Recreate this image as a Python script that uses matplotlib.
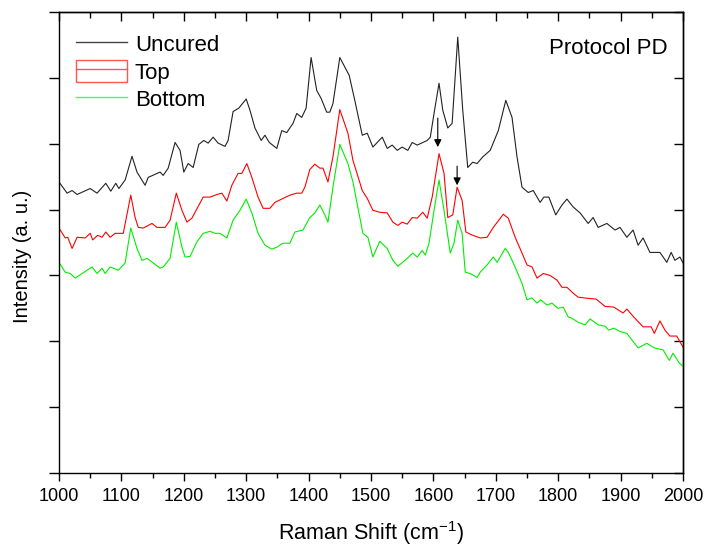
import matplotlib
matplotlib.use("Agg")
import matplotlib.pyplot as plt
from matplotlib.lines import Line2D
from matplotlib.patches import Rectangle
from matplotlib.legend_handler import HandlerTuple
from matplotlib.ticker import MultipleLocator, NullFormatter

plt.rcParams['font.family'] = ['Liberation Sans', 'DejaVu Sans']
plt.rcParams['mathtext.default'] = 'regular'

# Uncured spectrum
uncured_x = [1000, 1013, 1021, 1029, 1050, 1061, 1075, 1083, 1091, 1096, 1106, 1117, 1125, 1138, 1143,
             1162, 1167, 1175, 1186, 1194, 1200, 1207, 1215, 1224, 1232, 1239, 1247, 1255, 1266, 1271,
             1279, 1288, 1300, 1306, 1314, 1324, 1330, 1337, 1349, 1357, 1365, 1375, 1381, 1389, 1396,
             1404, 1413, 1420, 1429, 1434, 1439, 1450, 1465, 1474, 1486, 1494, 1503, 1518, 1526, 1534,
             1542, 1550, 1559, 1566, 1574, 1590, 1595, 1601, 1609, 1615, 1623, 1630, 1639, 1647, 1655,
             1663, 1670, 1679, 1691, 1704, 1716, 1726, 1734, 1742, 1752, 1760, 1771, 1777, 1785, 1796,
             1806, 1814, 1824, 1835, 1848, 1856, 1864, 1878, 1891, 1899, 1910, 1920, 1928, 1936, 1947,
             1963, 1974, 1981, 1987, 1995, 2000]
uncured_y = [4.42, 4.25, 4.29, 4.23, 4.32, 4.25, 4.40, 4.28, 4.40, 4.32, 4.45, 4.81, 4.57, 4.37, 4.49,
             4.57, 4.52, 4.63, 5.02, 4.90, 4.57, 4.70, 4.64, 4.99, 5.05, 5.01, 5.10, 5.01, 4.96, 5.05,
             5.49, 5.54, 5.68, 5.51, 5.24, 5.05, 5.13, 5.02, 4.93, 5.20, 5.17, 5.31, 5.46, 5.40, 5.54,
             6.31, 5.81, 5.69, 5.48, 5.48, 5.61, 6.31, 6.04, 5.66, 5.13, 5.16, 4.95, 5.10, 4.93, 4.98,
             4.90, 4.95, 4.90, 5.02, 4.98, 5.05, 5.10, 5.46, 5.92, 5.51, 5.24, 5.31, 6.62, 5.51, 4.64,
             4.72, 4.70, 4.80, 4.90, 5.20, 5.66, 5.40, 4.80, 4.34, 4.26, 4.29, 4.11, 4.19, 4.19, 3.92,
             4.07, 4.16, 4.04, 3.95, 3.79, 3.88, 3.73, 3.79, 3.69, 3.73, 3.58, 3.69, 3.46, 3.57, 3.35,
             3.35, 3.20, 3.35, 3.23, 3.28, 3.19]

# Top
top_x = [1000, 1010, 1014, 1021, 1029, 1042, 1050, 1054, 1062, 1069, 1075, 1082, 1090, 1103, 1115,
         1122, 1127, 1135, 1149, 1157, 1170, 1178, 1188, 1197, 1205, 1213, 1226, 1231, 1242, 1253,
         1261, 1269, 1277, 1287, 1293, 1301, 1309, 1319, 1327, 1338, 1346, 1359, 1370, 1381, 1389,
         1394, 1402, 1410, 1418, 1423, 1431, 1439, 1450, 1463, 1471, 1486, 1494, 1503, 1514, 1526,
         1535, 1543, 1550, 1558, 1566, 1574, 1583, 1590, 1598, 1609, 1617, 1623, 1631, 1638, 1646,
         1652, 1663, 1675, 1686, 1696, 1712, 1720, 1731, 1742, 1750, 1758, 1766, 1776, 1787, 1798,
         1806, 1814, 1824, 1832, 1841, 1861, 1875, 1889, 1904, 1910, 1921, 1936, 1949, 1954, 1963,
         1971, 1979, 1990, 2000]
top_y = [3.72, 3.57, 3.58, 3.41, 3.58, 3.57, 3.64, 3.54, 3.61, 3.58, 3.66, 3.58, 3.64, 3.64, 4.22,
         3.88, 3.73, 3.72, 3.79, 3.73, 3.73, 3.84, 4.25, 3.99, 3.81, 3.87, 4.10, 4.19, 4.19, 4.23,
         4.25, 4.13, 4.37, 4.55, 4.55, 4.70, 4.49, 4.19, 4.02, 4.02, 4.11, 4.17, 4.22, 4.25, 4.25,
         4.34, 4.61, 4.69, 4.63, 4.63, 4.42, 4.80, 5.52, 5.16, 4.75, 4.29, 4.17, 3.99, 3.96, 3.95,
         3.81, 3.76, 3.81, 3.78, 3.88, 3.87, 3.96, 3.87, 4.19, 4.85, 4.55, 3.88, 3.92, 4.34, 4.14,
         3.66, 3.61, 3.57, 3.58, 3.73, 3.93, 3.87, 3.58, 3.34, 3.16, 3.13, 2.96, 3.03, 3.00, 2.93,
         2.82, 2.82, 2.73, 2.67, 2.66, 2.64, 2.53, 2.52, 2.43, 2.49, 2.37, 2.22, 2.22, 2.12, 2.31,
         2.17, 2.08, 2.08, 1.91]

# Bottom
bottom_x = [1000, 1010, 1018, 1026, 1037, 1053, 1061, 1069, 1074, 1082, 1095, 1106, 1115, 1125, 1133,
            1141, 1151, 1162, 1167, 1178, 1188, 1197, 1202, 1210, 1221, 1231, 1242, 1250, 1258, 1269,
            1279, 1290, 1300, 1309, 1319, 1330, 1341, 1349, 1359, 1370, 1378, 1391, 1402, 1410, 1418,
            1426, 1431, 1439, 1450, 1463, 1471, 1487, 1495, 1503, 1514, 1526, 1535, 1543, 1558, 1567,
            1574, 1582, 1587, 1593, 1601, 1609, 1617, 1627, 1633, 1639, 1646, 1651, 1659, 1670, 1675,
            1686, 1696, 1702, 1707, 1715, 1720, 1728, 1742, 1750, 1758, 1766, 1772, 1782, 1790, 1800,
            1808, 1816, 1822, 1832, 1843, 1851, 1864, 1875, 1881, 1889, 1899, 1910, 1928, 1942, 1954,
            1968, 1978, 1984, 1994, 2000]
bottom_y = [3.20, 3.05, 3.03, 2.96, 3.03, 3.13, 3.03, 3.11, 3.03, 3.13, 3.08, 3.19, 3.72, 3.41, 3.23,
            3.26, 3.19, 3.11, 3.13, 3.26, 3.81, 3.43, 3.28, 3.29, 3.51, 3.64, 3.67, 3.64, 3.64, 3.57,
            3.84, 3.99, 4.16, 3.95, 3.64, 3.46, 3.40, 3.43, 3.49, 3.49, 3.66, 3.69, 3.88, 3.95, 4.07,
            3.92, 3.81, 4.34, 4.99, 4.70, 4.42, 3.64, 3.58, 3.28, 3.52, 3.41, 3.23, 3.14, 3.26, 3.34,
            3.28, 3.38, 3.31, 3.49, 3.99, 4.45, 3.99, 3.34, 3.49, 3.84, 3.64, 3.05, 3.03, 2.97, 3.05,
            3.16, 3.28, 3.20, 3.28, 3.41, 3.35, 3.19, 2.88, 2.63, 2.66, 2.58, 2.63, 2.55, 2.58, 2.50,
            2.52, 2.37, 2.35, 2.29, 2.25, 2.34, 2.25, 2.23, 2.17, 2.20, 2.15, 2.12, 1.90, 1.97, 1.90,
            1.87, 1.71, 1.82, 1.67, 1.62]

# arrows marking the two peaks on the Top curve: (x, y start, y tip)
arrow_x = [1607, 1638]
arrow_y0 = [5.39, 4.66]
arrow_y1 = [4.95, 4.37]

fig = plt.figure(figsize=(7.04, 5.49), dpi=100)
ax = fig.add_axes([0.0838, 0.1384, 0.8864, 0.8396])

ax.plot(uncured_x, uncured_y, color='#222222', lw=0.8)
ax.plot(top_x, top_y, color='red', lw=0.8)
ax.plot(bottom_x, bottom_y, color='#00ee00', lw=0.8)

for x, y0, y1 in zip(arrow_x, arrow_y0, arrow_y1):
    ax.annotate('', xy=(x, y1), xytext=(x, y0),
                arrowprops=dict(arrowstyle='-|>', color='black', lw=0.8, mutation_scale=11,
                                shrinkA=0, shrinkB=0))

ax.set_xlim(1000, 2000)
ax.set_ylim(0, 7)
ax.xaxis.set_major_locator(MultipleLocator(100))
ax.xaxis.set_minor_locator(MultipleLocator(50))
ax.yaxis.set_major_locator(MultipleLocator(1))
ax.yaxis.set_major_formatter(NullFormatter())

ax.tick_params(axis='x', which='both', direction='out', top=False, labelsize=13, pad=5)
ax.tick_params(axis='x', which='major', length=6, width=1)
ax.tick_params(axis='x', which='minor', length=3.5, width=1)
ax.tick_params(axis='y', which='major', direction='out', length=7, width=1, right=False)

# top and right axis with inward ticks
sec_x = ax.secondary_xaxis('top')
sec_x.xaxis.set_major_locator(MultipleLocator(100))
sec_x.xaxis.set_minor_locator(MultipleLocator(50))
sec_x.xaxis.set_major_formatter(NullFormatter())
sec_x.tick_params(which='major', direction='in', length=6.5, width=1)
sec_x.tick_params(which='minor', direction='in', length=4, width=1)
sec_y = ax.secondary_yaxis('right')
sec_y.yaxis.set_major_locator(MultipleLocator(1))
sec_y.yaxis.set_major_formatter(NullFormatter())
sec_y.tick_params(which='major', direction='in', length=6.5, width=1)

for s in list(ax.spines.values()) + [sec_x.spines['top'], sec_y.spines['right']]:
    s.set_linewidth(1)

ax.set_xlabel('Raman Shift (cm$^{-1}$)', fontsize=15.5, labelpad=10)
ax.set_ylabel('Intensity (a. u.)', fontsize=14.5)
ax.yaxis.set_label_coords(-0.043, 0.469)

ax.text(0.976, 0.922, 'Protocol PD', transform=ax.transAxes, ha='right', va='center', fontsize=16)

h_unc = Line2D([], [], color='#444444', lw=1)
h_top = (Rectangle((0, 0), 1, 1, fill=False, edgecolor='#ff5555', lw=1),
         Line2D([], [], color='#ff5555', lw=1))
h_bot = Line2D([], [], color='#44ff44', lw=1)
ax.legend([h_unc, h_top, h_bot], ['Uncured', 'Top', 'Bottom'],
          handler_map={tuple: HandlerTuple(ndivide=1, pad=0)},
          loc='upper left', bbox_to_anchor=(0.027, 0.956), frameon=False, fontsize=16,
          handlelength=2.3, handleheight=1.12, handletextpad=0.36, labelspacing=0.2,
          borderpad=0, borderaxespad=0)

fig.savefig('out.png', dpi=100)
